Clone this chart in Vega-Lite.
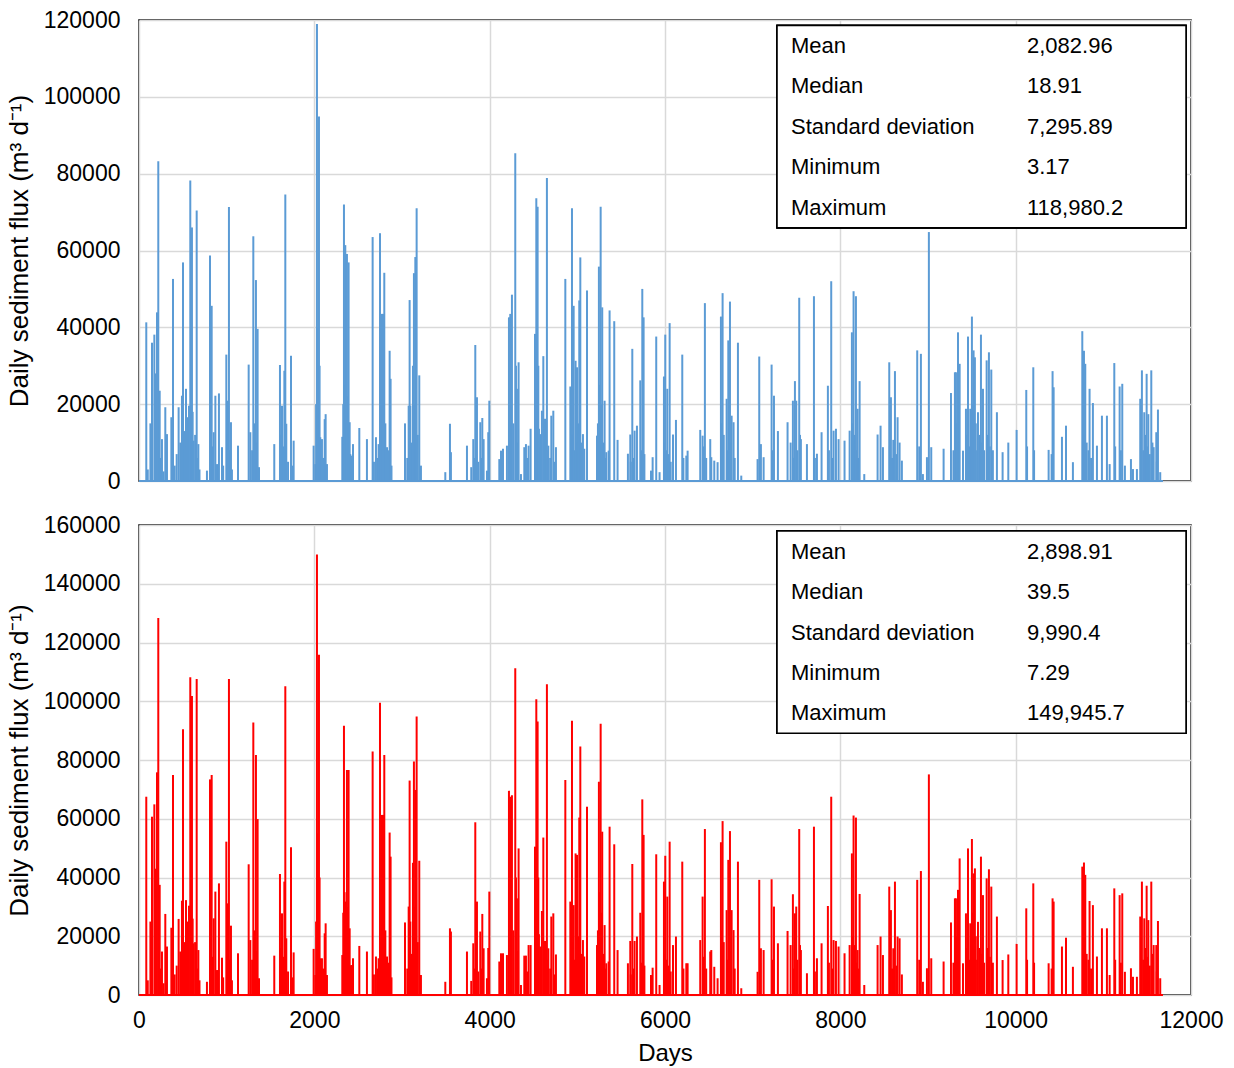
{
  "$schema": "https://vega.github.io/schema/vega-lite/v6.json",
  "background": "white",
  "padding": {"left": 5, "top": 8, "right": 5, "bottom": 0},
  "bounds": "flush",
  "spacing": 44,
  "config": {
    "font": "Liberation Sans",
    "view": {"stroke": "#000000", "strokeWidth": 1.5},
    "axis": {
      "grid": true, "gridColor": "#d9d9d9", "gridWidth": 1.5,
      "domain": false, "ticks": false, "tickSize": 0,
      "labelFont": "Liberation Sans", "labelFontSize": 23, "labelColor": "#000000",
      "titleFont": "Liberation Sans", "titleFontSize": 26, "titleFontWeight": "normal", "titleColor": "#000000",
      "labelFlush": false
    },
    "axisX": {"titleFontSize": 24},
    "text": {"font": "Liberation Sans", "fontSize": 22, "color": "#000000"}
  },
  "datasets": {
    "flux": [
      {"day": 0, "flux_top": 5, "flux_bottom": 10},
      {"day": 83, "flux_top": 41300, "flux_bottom": 67500},
      {"day": 100, "flux_top": 3000, "flux_bottom": 5000},
      {"day": 130, "flux_top": 15000, "flux_bottom": 25000},
      {"day": 148, "flux_top": 36000, "flux_bottom": 60700},
      {"day": 175, "flux_top": 38100, "flux_bottom": 64900},
      {"day": 190, "flux_top": 28000, "flux_bottom": 43000},
      {"day": 205, "flux_top": 43900, "flux_bottom": 75800},
      {"day": 220, "flux_top": 83200, "flux_bottom": 128300},
      {"day": 236, "flux_top": 23500, "flux_bottom": 37500},
      {"day": 250, "flux_top": 6000, "flux_bottom": 9000},
      {"day": 262, "flux_top": 10900, "flux_bottom": 14800},
      {"day": 280, "flux_top": 2500, "flux_bottom": 4000},
      {"day": 300, "flux_top": 19200, "flux_bottom": 27600},
      {"day": 319, "flux_top": 12200, "flux_bottom": 16500},
      {"day": 369, "flux_top": 16600, "flux_bottom": 22900},
      {"day": 388, "flux_top": 52600, "flux_bottom": 74900},
      {"day": 407, "flux_top": 4000, "flux_bottom": 7000},
      {"day": 430, "flux_top": 7000, "flux_bottom": 10000},
      {"day": 452, "flux_top": 19200, "flux_bottom": 25900},
      {"day": 471, "flux_top": 10000, "flux_bottom": 14800},
      {"day": 490, "flux_top": 22200, "flux_bottom": 32100},
      {"day": 502, "flux_top": 56900, "flux_bottom": 90500},
      {"day": 520, "flux_top": 13000, "flux_bottom": 18000},
      {"day": 536, "flux_top": 24000, "flux_bottom": 32300},
      {"day": 545, "flux_top": 9000, "flux_bottom": 14000},
      {"day": 555, "flux_top": 16600, "flux_bottom": 25000},
      {"day": 570, "flux_top": 19600, "flux_bottom": 30400},
      {"day": 585, "flux_top": 78200, "flux_bottom": 108200},
      {"day": 595, "flux_top": 30000, "flux_bottom": 42000},
      {"day": 604, "flux_top": 66000, "flux_bottom": 101800},
      {"day": 612, "flux_top": 18000, "flux_bottom": 26000},
      {"day": 623, "flux_top": 10500, "flux_bottom": 17600},
      {"day": 640, "flux_top": 12000, "flux_bottom": 18000},
      {"day": 658, "flux_top": 70400, "flux_bottom": 107600},
      {"day": 665, "flux_top": 6000, "flux_bottom": 9000},
      {"day": 677, "flux_top": 9600, "flux_bottom": 15300},
      {"day": 690, "flux_top": 3000, "flux_bottom": 5000},
      {"day": 775, "flux_top": 2700, "flux_bottom": 4500},
      {"day": 810, "flux_top": 58700, "flux_bottom": 73400},
      {"day": 820, "flux_top": 14000, "flux_bottom": 20000},
      {"day": 829, "flux_top": 45600, "flux_bottom": 74900},
      {"day": 840, "flux_top": 9000, "flux_bottom": 13000},
      {"day": 852, "flux_top": 12700, "flux_bottom": 26100},
      {"day": 871, "flux_top": 22200, "flux_bottom": 35200},
      {"day": 890, "flux_top": 4400, "flux_bottom": 8500},
      {"day": 912, "flux_top": 22800, "flux_bottom": 38000},
      {"day": 947, "flux_top": 8800, "flux_bottom": 12700},
      {"day": 960, "flux_top": 4000, "flux_bottom": 6000},
      {"day": 996, "flux_top": 32900, "flux_bottom": 52200},
      {"day": 1005, "flux_top": 12000, "flux_bottom": 18000},
      {"day": 1011, "flux_top": 20900, "flux_bottom": 31200},
      {"day": 1026, "flux_top": 71300, "flux_bottom": 107600},
      {"day": 1035, "flux_top": 8000, "flux_bottom": 12000},
      {"day": 1049, "flux_top": 15300, "flux_bottom": 23600},
      {"day": 1060, "flux_top": 3000, "flux_bottom": 5000},
      {"day": 1129, "flux_top": 9200, "flux_bottom": 14200},
      {"day": 1251, "flux_top": 30300, "flux_bottom": 44500},
      {"day": 1270, "flux_top": 12700, "flux_bottom": 18700},
      {"day": 1290, "flux_top": 8000, "flux_bottom": 12000},
      {"day": 1304, "flux_top": 63700, "flux_bottom": 92800},
      {"day": 1315, "flux_top": 15000, "flux_bottom": 22000},
      {"day": 1323, "flux_top": 5700, "flux_bottom": 6800},
      {"day": 1334, "flux_top": 52300, "flux_bottom": 81700},
      {"day": 1345, "flux_top": 10000, "flux_bottom": 15000},
      {"day": 1353, "flux_top": 39600, "flux_bottom": 59900},
      {"day": 1369, "flux_top": 3600, "flux_bottom": 5700},
      {"day": 1543, "flux_top": 9600, "flux_bottom": 13400},
      {"day": 1608, "flux_top": 30200, "flux_bottom": 41200},
      {"day": 1620, "flux_top": 12000, "flux_bottom": 16000},
      {"day": 1631, "flux_top": 19600, "flux_bottom": 27800},
      {"day": 1645, "flux_top": 9000, "flux_bottom": 13000},
      {"day": 1658, "flux_top": 28700, "flux_bottom": 38600},
      {"day": 1669, "flux_top": 74600, "flux_bottom": 105100},
      {"day": 1680, "flux_top": 14900, "flux_bottom": 19300},
      {"day": 1700, "flux_top": 5000, "flux_bottom": 8000},
      {"day": 1734, "flux_top": 32600, "flux_bottom": 50300},
      {"day": 1745, "flux_top": 4000, "flux_bottom": 6000},
      {"day": 1764, "flux_top": 10500, "flux_bottom": 14500},
      {"day": 1992, "flux_top": 9200, "flux_bottom": 15700},
      {"day": 2011, "flux_top": 4400, "flux_bottom": 6800},
      {"day": 2020, "flux_top": 20000, "flux_bottom": 25000},
      {"day": 2030, "flux_top": 118980, "flux_bottom": 149946},
      {"day": 2040, "flux_top": 40000, "flux_bottom": 55000},
      {"day": 2053, "flux_top": 94900, "flux_bottom": 115800},
      {"day": 2060, "flux_top": 30000, "flux_bottom": 40000},
      {"day": 2068, "flux_top": 11400, "flux_bottom": 12500},
      {"day": 2087, "flux_top": 10900, "flux_bottom": 12500},
      {"day": 2100, "flux_top": 6000, "flux_bottom": 9000},
      {"day": 2118, "flux_top": 16100, "flux_bottom": 21000},
      {"day": 2129, "flux_top": 17400, "flux_bottom": 24400},
      {"day": 2144, "flux_top": 4400, "flux_bottom": 6800},
      {"day": 2319, "flux_top": 11500, "flux_bottom": 13600},
      {"day": 2330, "flux_top": 20000, "flux_bottom": 28000},
      {"day": 2338, "flux_top": 72000, "flux_bottom": 91700},
      {"day": 2345, "flux_top": 25000, "flux_bottom": 35000},
      {"day": 2353, "flux_top": 61400, "flux_bottom": 31800},
      {"day": 2365, "flux_top": 15000, "flux_bottom": 20000},
      {"day": 2372, "flux_top": 59100, "flux_bottom": 76600},
      {"day": 2380, "flux_top": 22000, "flux_bottom": 30000},
      {"day": 2391, "flux_top": 56900, "flux_bottom": 76600},
      {"day": 2403, "flux_top": 15300, "flux_bottom": 22700},
      {"day": 2410, "flux_top": 7000, "flux_bottom": 10000},
      {"day": 2422, "flux_top": 6600, "flux_bottom": 10200},
      {"day": 2441, "flux_top": 9600, "flux_bottom": 12500},
      {"day": 2513, "flux_top": 13800, "flux_bottom": 16700},
      {"day": 2600, "flux_top": 10900, "flux_bottom": 14800},
      {"day": 2665, "flux_top": 63500, "flux_bottom": 82900},
      {"day": 2680, "flux_top": 5000, "flux_bottom": 7000},
      {"day": 2703, "flux_top": 11400, "flux_bottom": 13100},
      {"day": 2720, "flux_top": 6000, "flux_bottom": 9000},
      {"day": 2733, "flux_top": 9600, "flux_bottom": 12500},
      {"day": 2749, "flux_top": 64500, "flux_bottom": 99500},
      {"day": 2760, "flux_top": 12000, "flux_bottom": 18000},
      {"day": 2772, "flux_top": 43500, "flux_bottom": 61300},
      {"day": 2780, "flux_top": 20000, "flux_bottom": 30000},
      {"day": 2787, "flux_top": 43500, "flux_bottom": 61300},
      {"day": 2798, "flux_top": 54200, "flux_bottom": 81700},
      {"day": 2810, "flux_top": 15000, "flux_bottom": 22000},
      {"day": 2829, "flux_top": 8800, "flux_bottom": 13100},
      {"day": 2840, "flux_top": 8000, "flux_bottom": 11000},
      {"day": 2859, "flux_top": 33900, "flux_bottom": 55300},
      {"day": 2870, "flux_top": 26600, "flux_bottom": 47100},
      {"day": 2880, "flux_top": 4000, "flux_bottom": 6000},
      {"day": 3034, "flux_top": 15000, "flux_bottom": 24700},
      {"day": 3060, "flux_top": 6000, "flux_bottom": 9000},
      {"day": 3076, "flux_top": 19600, "flux_bottom": 30100},
      {"day": 3087, "flux_top": 47100, "flux_bottom": 73000},
      {"day": 3095, "flux_top": 19600, "flux_bottom": 25000},
      {"day": 3110, "flux_top": 10000, "flux_bottom": 14000},
      {"day": 3125, "flux_top": 30000, "flux_bottom": 45000},
      {"day": 3136, "flux_top": 54100, "flux_bottom": 79500},
      {"day": 3145, "flux_top": 20000, "flux_bottom": 30000},
      {"day": 3152, "flux_top": 58300, "flux_bottom": 69800},
      {"day": 3160, "flux_top": 25000, "flux_bottom": 35000},
      {"day": 3167, "flux_top": 71000, "flux_bottom": 94800},
      {"day": 3180, "flux_top": 12000, "flux_bottom": 18000},
      {"day": 3197, "flux_top": 27500, "flux_bottom": 45700},
      {"day": 3216, "flux_top": 4000, "flux_bottom": 6800},
      {"day": 3494, "flux_top": 2300, "flux_bottom": 4500},
      {"day": 3547, "flux_top": 14900, "flux_bottom": 22700},
      {"day": 3558, "flux_top": 7500, "flux_bottom": 21600},
      {"day": 3741, "flux_top": 9200, "flux_bottom": 14800},
      {"day": 3790, "flux_top": 3600, "flux_bottom": 4800},
      {"day": 3813, "flux_top": 10900, "flux_bottom": 17600},
      {"day": 3830, "flux_top": 6000, "flux_bottom": 9000},
      {"day": 3836, "flux_top": 35400, "flux_bottom": 58800},
      {"day": 3855, "flux_top": 21800, "flux_bottom": 31800},
      {"day": 3870, "flux_top": 5000, "flux_bottom": 8000},
      {"day": 3893, "flux_top": 15300, "flux_bottom": 21600},
      {"day": 3905, "flux_top": 6000, "flux_bottom": 9000},
      {"day": 3916, "flux_top": 16400, "flux_bottom": 27600},
      {"day": 3931, "flux_top": 10900, "flux_bottom": 15900},
      {"day": 3969, "flux_top": 2700, "flux_bottom": 5700},
      {"day": 3984, "flux_top": 12700, "flux_bottom": 16000},
      {"day": 3996, "flux_top": 20900, "flux_bottom": 35200},
      {"day": 4110, "flux_top": 5700, "flux_bottom": 11400},
      {"day": 4129, "flux_top": 7900, "flux_bottom": 14200},
      {"day": 4152, "flux_top": 8400, "flux_bottom": 14200},
      {"day": 4197, "flux_top": 9200, "flux_bottom": 13600},
      {"day": 4220, "flux_top": 42600, "flux_bottom": 69500},
      {"day": 4235, "flux_top": 43500, "flux_bottom": 67500},
      {"day": 4240, "flux_top": 20000, "flux_bottom": 30000},
      {"day": 4254, "flux_top": 48500, "flux_bottom": 68000},
      {"day": 4270, "flux_top": 15000, "flux_bottom": 22000},
      {"day": 4292, "flux_top": 85300, "flux_bottom": 111200},
      {"day": 4300, "flux_top": 30000, "flux_bottom": 40000},
      {"day": 4311, "flux_top": 24000, "flux_bottom": 32900},
      {"day": 4320, "flux_top": 10000, "flux_bottom": 15000},
      {"day": 4330, "flux_top": 30900, "flux_bottom": 49900},
      {"day": 4357, "flux_top": 1800, "flux_bottom": 3400},
      {"day": 4395, "flux_top": 8800, "flux_bottom": 13400},
      {"day": 4405, "flux_top": 5000, "flux_bottom": 7000},
      {"day": 4414, "flux_top": 9600, "flux_bottom": 13400},
      {"day": 4430, "flux_top": 6000, "flux_bottom": 8000},
      {"day": 4444, "flux_top": 9200, "flux_bottom": 17000},
      {"day": 4467, "flux_top": 13600, "flux_bottom": 17000},
      {"day": 4517, "flux_top": 38300, "flux_bottom": 50500},
      {"day": 4525, "flux_top": 20000, "flux_bottom": 30000},
      {"day": 4532, "flux_top": 73600, "flux_bottom": 100700},
      {"day": 4540, "flux_top": 15000, "flux_bottom": 22000},
      {"day": 4547, "flux_top": 71400, "flux_bottom": 93100},
      {"day": 4555, "flux_top": 30000, "flux_bottom": 40000},
      {"day": 4562, "flux_top": 13600, "flux_bottom": 20700},
      {"day": 4577, "flux_top": 12200, "flux_bottom": 16500},
      {"day": 4585, "flux_top": 9000, "flux_bottom": 13000},
      {"day": 4596, "flux_top": 18300, "flux_bottom": 28600},
      {"day": 4612, "flux_top": 32500, "flux_bottom": 53600},
      {"day": 4620, "flux_top": 10000, "flux_bottom": 15000},
      {"day": 4631, "flux_top": 16200, "flux_bottom": 18400},
      {"day": 4640, "flux_top": 12000, "flux_bottom": 18000},
      {"day": 4653, "flux_top": 78900, "flux_bottom": 105800},
      {"day": 4660, "flux_top": 8000, "flux_bottom": 12000},
      {"day": 4669, "flux_top": 9200, "flux_bottom": 15900},
      {"day": 4690, "flux_top": 6000, "flux_bottom": 9000},
      {"day": 4703, "flux_top": 17000, "flux_bottom": 26700},
      {"day": 4726, "flux_top": 18300, "flux_bottom": 27800},
      {"day": 4740, "flux_top": 5000, "flux_bottom": 7000},
      {"day": 4756, "flux_top": 8800, "flux_bottom": 13800},
      {"day": 4863, "flux_top": 52600, "flux_bottom": 73200},
      {"day": 4920, "flux_top": 24600, "flux_bottom": 31800},
      {"day": 4930, "flux_top": 15000, "flux_bottom": 22000},
      {"day": 4939, "flux_top": 71000, "flux_bottom": 93400},
      {"day": 4950, "flux_top": 12000, "flux_bottom": 18000},
      {"day": 4958, "flux_top": 45600, "flux_bottom": 30600},
      {"day": 4970, "flux_top": 8000, "flux_bottom": 12000},
      {"day": 4980, "flux_top": 31300, "flux_bottom": 48200},
      {"day": 4996, "flux_top": 29600, "flux_bottom": 47700},
      {"day": 5005, "flux_top": 10000, "flux_bottom": 15000},
      {"day": 5015, "flux_top": 15000, "flux_bottom": 20000},
      {"day": 5022, "flux_top": 47000, "flux_bottom": 60400},
      {"day": 5034, "flux_top": 58200, "flux_bottom": 84600},
      {"day": 5045, "flux_top": 10000, "flux_bottom": 14000},
      {"day": 5064, "flux_top": 12200, "flux_bottom": 18700},
      {"day": 5079, "flux_top": 8400, "flux_bottom": 13100},
      {"day": 5110, "flux_top": 49600, "flux_bottom": 64100},
      {"day": 5224, "flux_top": 11800, "flux_bottom": 17000},
      {"day": 5235, "flux_top": 15000, "flux_bottom": 22000},
      {"day": 5246, "flux_top": 55800, "flux_bottom": 72600},
      {"day": 5255, "flux_top": 25000, "flux_bottom": 35000},
      {"day": 5266, "flux_top": 71400, "flux_bottom": 92300},
      {"day": 5275, "flux_top": 20000, "flux_bottom": 28000},
      {"day": 5284, "flux_top": 45200, "flux_bottom": 55600},
      {"day": 5295, "flux_top": 10000, "flux_bottom": 14000},
      {"day": 5311, "flux_top": 20900, "flux_bottom": 23800},
      {"day": 5320, "flux_top": 6000, "flux_bottom": 9000},
      {"day": 5330, "flux_top": 7500, "flux_bottom": 10800},
      {"day": 5357, "flux_top": 7900, "flux_bottom": 11400},
      {"day": 5368, "flux_top": 44400, "flux_bottom": 57300},
      {"day": 5421, "flux_top": 41600, "flux_bottom": 51300},
      {"day": 5459, "flux_top": 10700, "flux_bottom": 15300},
      {"day": 5577, "flux_top": 7100, "flux_bottom": 10800},
      {"day": 5604, "flux_top": 12100, "flux_bottom": 18400},
      {"day": 5610, "flux_top": 5000, "flux_bottom": 7000},
      {"day": 5627, "flux_top": 34400, "flux_bottom": 44600},
      {"day": 5640, "flux_top": 6000, "flux_bottom": 9000},
      {"day": 5653, "flux_top": 13100, "flux_bottom": 18400},
      {"day": 5680, "flux_top": 14400, "flux_bottom": 19900},
      {"day": 5718, "flux_top": 26200, "flux_bottom": 28000},
      {"day": 5730, "flux_top": 8000, "flux_bottom": 11000},
      {"day": 5741, "flux_top": 50000, "flux_bottom": 66600},
      {"day": 5756, "flux_top": 42600, "flux_bottom": 54500},
      {"day": 5765, "flux_top": 7000, "flux_bottom": 10000},
      {"day": 5840, "flux_top": 2700, "flux_bottom": 6800},
      {"day": 5859, "flux_top": 6200, "flux_bottom": 9300},
      {"day": 5900, "flux_top": 37600, "flux_bottom": 47900},
      {"day": 5938, "flux_top": 2300, "flux_bottom": 3400},
      {"day": 5988, "flux_top": 27200, "flux_bottom": 38600},
      {"day": 5995, "flux_top": 10000, "flux_bottom": 14000},
      {"day": 6003, "flux_top": 38100, "flux_bottom": 47400},
      {"day": 6015, "flux_top": 8000, "flux_bottom": 12000},
      {"day": 6026, "flux_top": 24000, "flux_bottom": 33500},
      {"day": 6040, "flux_top": 7000, "flux_bottom": 10000},
      {"day": 6053, "flux_top": 41100, "flux_bottom": 52200},
      {"day": 6065, "flux_top": 5000, "flux_bottom": 8000},
      {"day": 6091, "flux_top": 12100, "flux_bottom": 17000},
      {"day": 6125, "flux_top": 15900, "flux_bottom": 19900},
      {"day": 6197, "flux_top": 32900, "flux_bottom": 45400},
      {"day": 6210, "flux_top": 6000, "flux_bottom": 9000},
      {"day": 6243, "flux_top": 6600, "flux_bottom": 10800},
      {"day": 6258, "flux_top": 7900, "flux_bottom": 10800},
      {"day": 6402, "flux_top": 13300, "flux_bottom": 18700},
      {"day": 6429, "flux_top": 11800, "flux_bottom": 33500},
      {"day": 6445, "flux_top": 9000, "flux_bottom": 13000},
      {"day": 6455, "flux_top": 46300, "flux_bottom": 56500},
      {"day": 6470, "flux_top": 6000, "flux_bottom": 9000},
      {"day": 6516, "flux_top": 10900, "flux_bottom": 14800},
      {"day": 6528, "flux_top": 6200, "flux_bottom": 15300},
      {"day": 6562, "flux_top": 5300, "flux_bottom": 9600},
      {"day": 6600, "flux_top": 4900, "flux_bottom": 5700},
      {"day": 6638, "flux_top": 42800, "flux_bottom": 52000},
      {"day": 6645, "flux_top": 15000, "flux_bottom": 22000},
      {"day": 6657, "flux_top": 48900, "flux_bottom": 59200},
      {"day": 6670, "flux_top": 12000, "flux_bottom": 18000},
      {"day": 6703, "flux_top": 21400, "flux_bottom": 28900},
      {"day": 6715, "flux_top": 8000, "flux_bottom": 12000},
      {"day": 6722, "flux_top": 36600, "flux_bottom": 46000},
      {"day": 6735, "flux_top": 14000, "flux_bottom": 20000},
      {"day": 6741, "flux_top": 46700, "flux_bottom": 55800},
      {"day": 6750, "flux_top": 10000, "flux_bottom": 15000},
      {"day": 6760, "flux_top": 17000, "flux_bottom": 28900},
      {"day": 6782, "flux_top": 15300, "flux_bottom": 22100},
      {"day": 6795, "flux_top": 6000, "flux_bottom": 9000},
      {"day": 6832, "flux_top": 36000, "flux_bottom": 45400},
      {"day": 6870, "flux_top": 1400, "flux_bottom": 2300},
      {"day": 7056, "flux_top": 5700, "flux_bottom": 7900},
      {"day": 7075, "flux_top": 32400, "flux_bottom": 39200},
      {"day": 7085, "flux_top": 8000, "flux_bottom": 11000},
      {"day": 7094, "flux_top": 9600, "flux_bottom": 15900},
      {"day": 7125, "flux_top": 6200, "flux_bottom": 15300},
      {"day": 7216, "flux_top": 30300, "flux_bottom": 39400},
      {"day": 7230, "flux_top": 8000, "flux_bottom": 12000},
      {"day": 7243, "flux_top": 22200, "flux_bottom": 30100},
      {"day": 7288, "flux_top": 13000, "flux_bottom": 17600},
      {"day": 7398, "flux_top": 15300, "flux_bottom": 21800},
      {"day": 7433, "flux_top": 10000, "flux_bottom": 17000},
      {"day": 7459, "flux_top": 20900, "flux_bottom": 34300},
      {"day": 7470, "flux_top": 6000, "flux_bottom": 9000},
      {"day": 7482, "flux_top": 26000, "flux_bottom": 27800},
      {"day": 7497, "flux_top": 20900, "flux_bottom": 30100},
      {"day": 7510, "flux_top": 8000, "flux_bottom": 12000},
      {"day": 7531, "flux_top": 47700, "flux_bottom": 56500},
      {"day": 7540, "flux_top": 12000, "flux_bottom": 17000},
      {"day": 7550, "flux_top": 10900, "flux_bottom": 15300},
      {"day": 7619, "flux_top": 9600, "flux_bottom": 7400},
      {"day": 7699, "flux_top": 48100, "flux_bottom": 57300},
      {"day": 7710, "flux_top": 6000, "flux_bottom": 8000},
      {"day": 7733, "flux_top": 7100, "flux_bottom": 12500},
      {"day": 7786, "flux_top": 12700, "flux_bottom": 17600},
      {"day": 7858, "flux_top": 24800, "flux_bottom": 30300},
      {"day": 7870, "flux_top": 8000, "flux_bottom": 11000},
      {"day": 7896, "flux_top": 52000, "flux_bottom": 67500},
      {"day": 7910, "flux_top": 6000, "flux_bottom": 9000},
      {"day": 7923, "flux_top": 13100, "flux_bottom": 18700},
      {"day": 7950, "flux_top": 13600, "flux_bottom": 18400},
      {"day": 7980, "flux_top": 10900, "flux_bottom": 16500},
      {"day": 8048, "flux_top": 10500, "flux_bottom": 14200},
      {"day": 8106, "flux_top": 13100, "flux_bottom": 17000},
      {"day": 8132, "flux_top": 38700, "flux_bottom": 48200},
      {"day": 8140, "flux_top": 15000, "flux_bottom": 20000},
      {"day": 8151, "flux_top": 49400, "flux_bottom": 61100},
      {"day": 8165, "flux_top": 12000, "flux_bottom": 17000},
      {"day": 8178, "flux_top": 48100, "flux_bottom": 60400},
      {"day": 8190, "flux_top": 8000, "flux_bottom": 11000},
      {"day": 8197, "flux_top": 18800, "flux_bottom": 15300},
      {"day": 8210, "flux_top": 6000, "flux_bottom": 9000},
      {"day": 8220, "flux_top": 26000, "flux_bottom": 34400},
      {"day": 8273, "flux_top": 1800, "flux_bottom": 3400},
      {"day": 8425, "flux_top": 12100, "flux_bottom": 17000},
      {"day": 8459, "flux_top": 14400, "flux_bottom": 19900},
      {"day": 8486, "flux_top": 8800, "flux_bottom": 13600},
      {"day": 8558, "flux_top": 30900, "flux_bottom": 36900},
      {"day": 8565, "flux_top": 9000, "flux_bottom": 12000},
      {"day": 8577, "flux_top": 21800, "flux_bottom": 28900},
      {"day": 8590, "flux_top": 6000, "flux_bottom": 9000},
      {"day": 8604, "flux_top": 10700, "flux_bottom": 15900},
      {"day": 8623, "flux_top": 28600, "flux_bottom": 38600},
      {"day": 8640, "flux_top": 7000, "flux_bottom": 10000},
      {"day": 8653, "flux_top": 16600, "flux_bottom": 19900},
      {"day": 8676, "flux_top": 10000, "flux_bottom": 19300},
      {"day": 8702, "flux_top": 5300, "flux_bottom": 7000},
      {"day": 8877, "flux_top": 34000, "flux_bottom": 39200},
      {"day": 8900, "flux_top": 9000, "flux_bottom": 12000},
      {"day": 8919, "flux_top": 33100, "flux_bottom": 42200},
      {"day": 8942, "flux_top": 1800, "flux_bottom": 4500},
      {"day": 8988, "flux_top": 6200, "flux_bottom": 9100},
      {"day": 9010, "flux_top": 64800, "flux_bottom": 75100},
      {"day": 9037, "flux_top": 8800, "flux_bottom": 12500},
      {"day": 9178, "flux_top": 8400, "flux_bottom": 11400},
      {"day": 9262, "flux_top": 22900, "flux_bottom": 24700},
      {"day": 9290, "flux_top": 8000, "flux_bottom": 11000},
      {"day": 9307, "flux_top": 28300, "flux_bottom": 32900},
      {"day": 9319, "flux_top": 28300, "flux_bottom": 32900},
      {"day": 9330, "flux_top": 15000, "flux_bottom": 20000},
      {"day": 9342, "flux_top": 38700, "flux_bottom": 35800},
      {"day": 9350, "flux_top": 10000, "flux_bottom": 14000},
      {"day": 9361, "flux_top": 30500, "flux_bottom": 46500},
      {"day": 9399, "flux_top": 7900, "flux_bottom": 10800},
      {"day": 9433, "flux_top": 18800, "flux_bottom": 27800},
      {"day": 9445, "flux_top": 12000, "flux_bottom": 16000},
      {"day": 9456, "flux_top": 37600, "flux_bottom": 49900},
      {"day": 9470, "flux_top": 9000, "flux_bottom": 12000},
      {"day": 9482, "flux_top": 18800, "flux_bottom": 24400},
      {"day": 9490, "flux_top": 15000, "flux_bottom": 20000},
      {"day": 9501, "flux_top": 42800, "flux_bottom": 53100},
      {"day": 9510, "flux_top": 20000, "flux_bottom": 28000},
      {"day": 9520, "flux_top": 34000, "flux_bottom": 41400},
      {"day": 9535, "flux_top": 32200, "flux_bottom": 43100},
      {"day": 9545, "flux_top": 15000, "flux_bottom": 20000},
      {"day": 9560, "flux_top": 8000, "flux_bottom": 12000},
      {"day": 9570, "flux_top": 17900, "flux_bottom": 24900},
      {"day": 9590, "flux_top": 12000, "flux_bottom": 16000},
      {"day": 9604, "flux_top": 38100, "flux_bottom": 47100},
      {"day": 9615, "flux_top": 10000, "flux_bottom": 14000},
      {"day": 9627, "flux_top": 24000, "flux_bottom": 34000},
      {"day": 9640, "flux_top": 8000, "flux_bottom": 11000},
      {"day": 9669, "flux_top": 31400, "flux_bottom": 39700},
      {"day": 9680, "flux_top": 12000, "flux_bottom": 16000},
      {"day": 9695, "flux_top": 33500, "flux_bottom": 42800},
      {"day": 9705, "flux_top": 9000, "flux_bottom": 13000},
      {"day": 9722, "flux_top": 29000, "flux_bottom": 36900},
      {"day": 9740, "flux_top": 8000, "flux_bottom": 11000},
      {"day": 9786, "flux_top": 17900, "flux_bottom": 26700},
      {"day": 9851, "flux_top": 7500, "flux_bottom": 11900},
      {"day": 9916, "flux_top": 10000, "flux_bottom": 13800},
      {"day": 10011, "flux_top": 13300, "flux_bottom": 17400},
      {"day": 10121, "flux_top": 23700, "flux_bottom": 29500},
      {"day": 10130, "flux_top": 9000, "flux_bottom": 12000},
      {"day": 10201, "flux_top": 29600, "flux_bottom": 38000},
      {"day": 10210, "flux_top": 8000, "flux_bottom": 11000},
      {"day": 10376, "flux_top": 8100, "flux_bottom": 10800},
      {"day": 10410, "flux_top": 7000, "flux_bottom": 9000},
      {"day": 10421, "flux_top": 28600, "flux_bottom": 32900},
      {"day": 10433, "flux_top": 24400, "flux_bottom": 31800},
      {"day": 10528, "flux_top": 11500, "flux_bottom": 16500},
      {"day": 10574, "flux_top": 14400, "flux_bottom": 19500},
      {"day": 10653, "flux_top": 4900, "flux_bottom": 9600},
      {"day": 10760, "flux_top": 39000, "flux_bottom": 43700},
      {"day": 10770, "flux_top": 15000, "flux_bottom": 20000},
      {"day": 10779, "flux_top": 33900, "flux_bottom": 45100},
      {"day": 10785, "flux_top": 12000, "flux_bottom": 17000},
      {"day": 10794, "flux_top": 30500, "flux_bottom": 40900},
      {"day": 10810, "flux_top": 10000, "flux_bottom": 14000},
      {"day": 10830, "flux_top": 8000, "flux_bottom": 12000},
      {"day": 10843, "flux_top": 24000, "flux_bottom": 32000},
      {"day": 10860, "flux_top": 6000, "flux_bottom": 9000},
      {"day": 10881, "flux_top": 20300, "flux_bottom": 30600},
      {"day": 10927, "flux_top": 9200, "flux_bottom": 13100},
      {"day": 10984, "flux_top": 17000, "flux_bottom": 22700},
      {"day": 11041, "flux_top": 17000, "flux_bottom": 22700},
      {"day": 11072, "flux_top": 4400, "flux_bottom": 6800},
      {"day": 11125, "flux_top": 30700, "flux_bottom": 36300},
      {"day": 11135, "flux_top": 9000, "flux_bottom": 12000},
      {"day": 11186, "flux_top": 24600, "flux_bottom": 34000},
      {"day": 11200, "flux_top": 8000, "flux_bottom": 11000},
      {"day": 11216, "flux_top": 25300, "flux_bottom": 34600},
      {"day": 11246, "flux_top": 4000, "flux_bottom": 7900},
      {"day": 11315, "flux_top": 5700, "flux_bottom": 9100},
      {"day": 11338, "flux_top": 3100, "flux_bottom": 6200},
      {"day": 11383, "flux_top": 3100, "flux_bottom": 6200},
      {"day": 11421, "flux_top": 21400, "flux_bottom": 26700},
      {"day": 11430, "flux_top": 10000, "flux_bottom": 14000},
      {"day": 11440, "flux_top": 28800, "flux_bottom": 38600},
      {"day": 11455, "flux_top": 8000, "flux_bottom": 12000},
      {"day": 11467, "flux_top": 17900, "flux_bottom": 26100},
      {"day": 11480, "flux_top": 12000, "flux_bottom": 16000},
      {"day": 11494, "flux_top": 27900, "flux_bottom": 37200},
      {"day": 11505, "flux_top": 9000, "flux_bottom": 13000},
      {"day": 11513, "flux_top": 17400, "flux_bottom": 25500},
      {"day": 11530, "flux_top": 7000, "flux_bottom": 10000},
      {"day": 11547, "flux_top": 28800, "flux_bottom": 38600},
      {"day": 11560, "flux_top": 10000, "flux_bottom": 14000},
      {"day": 11574, "flux_top": 8800, "flux_bottom": 17000},
      {"day": 11604, "flux_top": 12700, "flux_bottom": 17000},
      {"day": 11610, "flux_top": 5000, "flux_bottom": 8000},
      {"day": 11623, "flux_top": 18600, "flux_bottom": 25200},
      {"day": 11649, "flux_top": 2300, "flux_bottom": 5700},
      {"day": 11680, "flux_top": 3.17, "flux_bottom": 7.29}
    ],
    "stats": [
      {"row": 0, "stat": "Mean", "value_top": "2,082.96", "value_bottom": "2,898.91"},
      {"row": 1, "stat": "Median", "value_top": "18.91", "value_bottom": "39.5"},
      {"row": 2, "stat": "Standard deviation", "value_top": "7,295.89", "value_bottom": "9,990.4"},
      {"row": 3, "stat": "Minimum", "value_top": "3.17", "value_bottom": "7.29"},
      {"row": 4, "stat": "Maximum", "value_top": "118,980.2", "value_bottom": "149,945.7"}
    ]
  },
  "vconcat": [
    {
      "width": 1052,
      "height": 461,
      "layer": [
        {
          "data": {"name": "flux"},
          "layer": [
            {
              "mark": {"type": "rule", "color": "#5b9bd5", "strokeWidth": 2},
              "encoding": {
                "x": {"field": "day", "type": "quantitative", "scale": {"domain": [0, 12000], "nice": false},
                      "axis": {"values": [0, 2000, 4000, 6000, 8000, 10000, 12000], "labels": false, "title": null}},
                "y": {"field": "flux_top", "type": "quantitative", "scale": {"domain": [0, 120000], "nice": false},
                      "axis": {"values": [0, 20000, 40000, 60000, 80000, 100000, 120000], "format": "d", "labelPadding": 19, "titlePadding": 11, "title": "Daily sediment flux (m³ d⁻¹)"}},
                "y2": {"datum": 0}
              }
            },
            {
              "mark": {"type": "line", "color": "#5b9bd5", "strokeWidth": 2},
              "encoding": {
                "x": {"field": "day", "type": "quantitative", "axis": {"values": [0, 2000, 4000, 6000, 8000, 10000, 12000], "labels": false, "title": null}},
                "y": {"datum": 0, "type": "quantitative"}
              }
            }
          ]
        },
        {
          "data": {"name": "stats"},
          "layer": [
            {
              "mark": {"type": "rect", "fill": "white", "stroke": "#000000", "strokeWidth": 1.5},
              "encoding": {
                "x": {"datum": 7278, "type": "quantitative", "axis": {"values": [0, 2000, 4000, 6000, 8000, 10000, 12000], "labels": false, "title": null}},
                "x2": {"datum": 11943},
                "y": {"datum": -0.5, "type": "quantitative", "scale": {"domain": [-0.635, 10.753], "reverse": true, "zero": false, "nice": false}, "axis": null},
                "y2": {"datum": 4.5}
              }
            },
            {
              "mark": {"type": "text", "align": "left", "baseline": "middle", "fontSize": 22},
              "encoding": {
                "x": {"datum": 7437, "type": "quantitative", "axis": {"values": [0, 2000, 4000, 6000, 8000, 10000, 12000], "labels": false, "title": null}},
                "y": {"field": "row", "type": "quantitative", "axis": null},
                "text": {"field": "stat"}
              }
            },
            {
              "mark": {"type": "text", "align": "left", "baseline": "middle", "fontSize": 22},
              "encoding": {
                "x": {"datum": 10129, "type": "quantitative", "axis": {"values": [0, 2000, 4000, 6000, 8000, 10000, 12000], "labels": false, "title": null}},
                "y": {"field": "row", "type": "quantitative", "axis": null},
                "text": {"field": "value_top"}
              }
            }
          ]
        }
      ],
      "resolve": {"scale": {"y": "independent"}}
    },
    {
      "width": 1052,
      "height": 470,
      "layer": [
        {
          "data": {"name": "flux"},
          "layer": [
            {
              "mark": {"type": "rule", "color": "#ff0000", "strokeWidth": 2},
              "encoding": {
                "x": {"field": "day", "type": "quantitative", "scale": {"domain": [0, 12000], "nice": false},
                      "axis": {"values": [0, 2000, 4000, 6000, 8000, 10000, 12000], "format": "d", "labelPadding": 14, "titlePadding": 9, "title": "Days"}},
                "y": {"field": "flux_bottom", "type": "quantitative", "scale": {"domain": [0, 160000], "nice": false},
                      "axis": {"values": [0, 20000, 40000, 60000, 80000, 100000, 120000, 140000, 160000], "format": "d", "labelPadding": 19, "titlePadding": 11, "title": "Daily sediment flux (m³ d⁻¹)"}},
                "y2": {"datum": 0}
              }
            },
            {
              "mark": {"type": "line", "color": "#ff0000", "strokeWidth": 2},
              "encoding": {
                "x": {"field": "day", "type": "quantitative", "axis": {"values": [0, 2000, 4000, 6000, 8000, 10000, 12000], "format": "d", "labelPadding": 14, "titlePadding": 9, "title": "Days"}},
                "y": {"datum": 0, "type": "quantitative"}
              }
            }
          ]
        },
        {
          "data": {"name": "stats"},
          "layer": [
            {
              "mark": {"type": "rect", "fill": "white", "stroke": "#000000", "strokeWidth": 1.5},
              "encoding": {
                "x": {"datum": 7278, "type": "quantitative", "axis": {"values": [0, 2000, 4000, 6000, 8000, 10000, 12000], "format": "d", "labelPadding": 14, "titlePadding": 9, "title": "Days"}},
                "x2": {"datum": 11943},
                "y": {"datum": -0.52, "type": "quantitative", "scale": {"domain": [-0.671, 11.006], "reverse": true, "zero": false, "nice": false}, "axis": null},
                "y2": {"datum": 4.5}
              }
            },
            {
              "mark": {"type": "text", "align": "left", "baseline": "middle", "fontSize": 22},
              "encoding": {
                "x": {"datum": 7437, "type": "quantitative", "axis": {"values": [0, 2000, 4000, 6000, 8000, 10000, 12000], "format": "d", "labelPadding": 14, "titlePadding": 9, "title": "Days"}},
                "y": {"field": "row", "type": "quantitative", "axis": null},
                "text": {"field": "stat"}
              }
            },
            {
              "mark": {"type": "text", "align": "left", "baseline": "middle", "fontSize": 22},
              "encoding": {
                "x": {"datum": 10129, "type": "quantitative", "axis": {"values": [0, 2000, 4000, 6000, 8000, 10000, 12000], "format": "d", "labelPadding": 14, "titlePadding": 9, "title": "Days"}},
                "y": {"field": "row", "type": "quantitative", "axis": null},
                "text": {"field": "value_bottom"}
              }
            }
          ]
        }
      ],
      "resolve": {"scale": {"y": "independent"}}
    }
  ]
}
